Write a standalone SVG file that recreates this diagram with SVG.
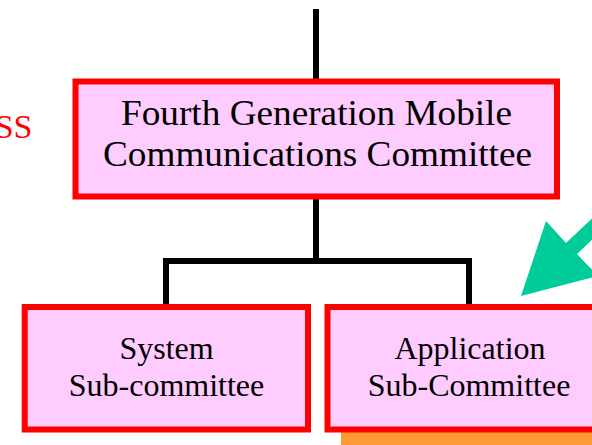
<svg xmlns="http://www.w3.org/2000/svg" width="592" height="445" viewBox="0 0 592 445">
<style>
.box{fill:#FFCCFF;stroke:#FF0000;stroke-width:6}
.t{font-family:"Liberation Serif","Times New Roman",serif;fill:#000;text-anchor:middle}
.big{font-size:36px}
.small{font-size:32px}
.conn{fill:none;stroke:#000;stroke-width:6;stroke-linecap:butt;stroke-linejoin:miter}
</style>
<rect x="341" y="432" width="251" height="13" fill="#FF9933"/>
<text x="32.5" y="138" font-family="Liberation Serif, serif" font-size="34" fill="#FF0000" text-anchor="end">SS</text>
<polygon points="521,296 546,221 566,243 639,174 650,185 577,254 598,276" fill="#00CC99"/>
<g id="connectors">
<line class="conn" x1="316" y1="9" x2="316" y2="80"/>
<polyline class="conn" points="316,198 316,261"/>
<polyline class="conn" points="166,305 166,261 469,261 469,305"/>
</g>
<g id="main">
<rect class="box" x="75.5" y="81.5" width="481.5" height="115"/>
<text class="t big" x="316.5" y="125" textLength="391" lengthAdjust="spacingAndGlyphs">Fourth Generation Mobile</text>
<text class="t big" x="317.5" y="166" textLength="429" lengthAdjust="spacingAndGlyphs">Communications Committee</text>
</g>
<g id="system">
<rect class="box" x="24.7" y="307" width="283.3" height="122.5"/>
<text class="t small" x="166.5" y="359">System</text>
<text class="t small" x="166.5" y="396">Sub-committee</text>
</g>
<g id="application">
<rect class="box" x="327.5" y="307" width="283" height="122.5"/>
<text class="t small" x="470" y="359">Application</text>
<text class="t small" x="469" y="396">Sub-Committee</text>
</g>
</svg>
